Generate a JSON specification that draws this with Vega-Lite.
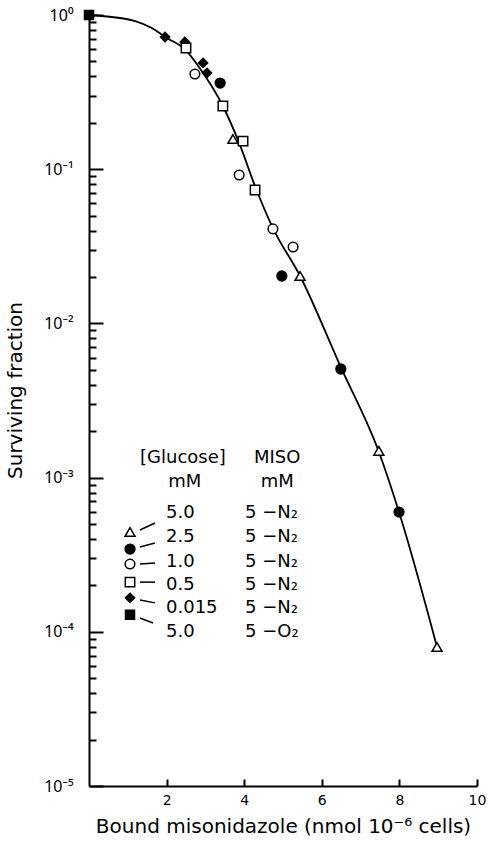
{
  "$schema": "https://vega.github.io/schema/vega-lite/v6.json",
  "width": 388,
  "height": 771,
  "autosize": {"type": "none"},
  "padding": {"left": 89, "top": 15, "right": 13, "bottom": 65},
  "background": "white",
  "config": {"view": {"stroke": null}, "font": "DejaVu Sans"},
  "datasets": {
    "curve": [
      {"x": 0, "y": 1.0}, {"x": 0.34, "y": 0.985}, {"x": 1.19, "y": 0.914}, {"x": 1.62, "y": 0.824},
      {"x": 1.96, "y": 0.72}, {"x": 2.47, "y": 0.6}, {"x": 2.86, "y": 0.45}, {"x": 3.45, "y": 0.257},
      {"x": 3.87, "y": 0.148}, {"x": 4.28, "y": 0.0775}, {"x": 4.74, "y": 0.0415}, {"x": 5.44, "y": 0.0203},
      {"x": 6.49, "y": 0.0052}, {"x": 7.47, "y": 0.00147}, {"x": 7.99, "y": 0.000598}, {"x": 8.97, "y": 0.0000797}
    ],
    "points": [
      {"group": "O2", "x": 0, "y": 1.0},
      {"group": "G0.015", "x": 1.96, "y": 0.72},
      {"group": "G0.015", "x": 2.47, "y": 0.668},
      {"group": "G0.015", "x": 2.94, "y": 0.489},
      {"group": "G0.015", "x": 3.04, "y": 0.421},
      {"group": "G0.5", "x": 2.5, "y": 0.611},
      {"group": "G0.5", "x": 3.45, "y": 0.257},
      {"group": "G0.5", "x": 3.97, "y": 0.152},
      {"group": "G0.5", "x": 4.28, "y": 0.0733},
      {"group": "G1.0", "x": 2.73, "y": 0.414},
      {"group": "G1.0", "x": 3.87, "y": 0.0917},
      {"group": "G1.0", "x": 4.74, "y": 0.041},
      {"group": "G1.0", "x": 5.26, "y": 0.0313},
      {"group": "G2.5", "x": 3.38, "y": 0.362},
      {"group": "G2.5", "x": 4.97, "y": 0.0203},
      {"group": "G2.5", "x": 6.49, "y": 0.00506},
      {"group": "G2.5", "x": 7.99, "y": 0.000598},
      {"group": "G5.0", "x": 3.71, "y": 0.157},
      {"group": "G5.0", "x": 5.44, "y": 0.0203},
      {"group": "G5.0", "x": 7.47, "y": 0.00149},
      {"group": "G5.0", "x": 8.97, "y": 0.0000797}
    ],
    "legsym": [
      {"group": "G5.0", "x": 1.057, "y": 0.000444},
      {"group": "G2.5", "x": 1.057, "y": 0.000344},
      {"group": "G1.0", "x": 1.057, "y": 0.000275},
      {"group": "G0.5", "x": 1.057, "y": 0.00021},
      {"group": "G0.015", "x": 1.057, "y": 0.000166},
      {"group": "O2", "x": 1.057, "y": 0.000129}
    ],
    "leaders": [
      {"x": 1.314, "y": 0.000457, "x2": 1.701, "y2": 0.000508},
      {"x": 1.314, "y": 0.000355, "x2": 1.701, "y2": 0.000377},
      {"x": 1.314, "y": 0.000275, "x2": 1.701, "y2": 0.000279},
      {"x": 1.314, "y": 0.00021, "x2": 1.701, "y2": 0.00021},
      {"x": 1.314, "y": 0.000161, "x2": 1.701, "y2": 0.000154},
      {"x": 1.314, "y": 0.000123, "x2": 1.65, "y2": 0.000114}
    ],
    "headers": [
      {"x": 2.42, "y": 0.00134, "text": "[Glucose]"},
      {"x": 2.47, "y": 0.000936, "text": "mM"},
      {"x": 4.85, "y": 0.00134, "text": "MISO"},
      {"x": 4.85, "y": 0.000936, "text": "mM"}
    ],
    "rows": [
      {"x": 1.985, "y": 0.000589, "text": "5.0"},
      {"x": 1.985, "y": 0.000412, "text": "2.5"},
      {"x": 1.985, "y": 0.000284, "text": "1.0"},
      {"x": 1.985, "y": 0.000201, "text": "0.5"},
      {"x": 1.985, "y": 0.000143, "text": "0.015"},
      {"x": 1.985, "y": 0.0000996, "text": "5.0"},
      {"x": 4.02, "y": 0.000589, "text": "5 −N₂"},
      {"x": 4.02, "y": 0.000412, "text": "5 −N₂"},
      {"x": 4.02, "y": 0.000284, "text": "5 −N₂"},
      {"x": 4.02, "y": 0.000201, "text": "5 −N₂"},
      {"x": 4.02, "y": 0.000143, "text": "5 −N₂"},
      {"x": 4.02, "y": 0.0000996, "text": "5 −O₂"}
    ]
  },
  "encoding": {
    "x": {
      "field": "x", "type": "quantitative",
      "scale": {"domain": [0, 10], "nice": false, "zero": false},
      "axis": {
        "values": [2, 4, 6, 8, 10],
        "grid": false,
        "domainColor": "black", "domainWidth": 2,
        "tickColor": "black", "tickWidth": 2, "tickSize": -7,
        "labelFont": "DejaVu Sans", "labelFontSize": 14, "labelColor": "black",
        "labelPadding": 14, "labelFlush": false,
        "title": "Bound misonidazole (nmol 10⁻⁶ cells)",
        "titleFont": "DejaVu Sans", "titleFontSize": 20, "titleFontWeight": "normal", "titleColor": "black",
        "titleBaseline": "alphabetic", "titleY": 46
      }
    },
    "y": {
      "field": "y", "type": "quantitative",
      "scale": {"type": "log", "domain": [0.00001, 1], "nice": false},
      "axis": {
        "values": [0.00001, 0.00002, 0.00003, 0.00004, 0.00005, 0.00006, 0.00007, 0.00008, 0.00009,
                   0.0001, 0.0002, 0.0003, 0.0004, 0.0005, 0.0006, 0.0007, 0.0008, 0.0009,
                   0.001, 0.002, 0.003, 0.004, 0.005, 0.006, 0.007, 0.008, 0.009,
                   0.01, 0.02, 0.03, 0.04, 0.05, 0.06, 0.07, 0.08, 0.09,
                   0.1, 0.2, 0.3, 0.4, 0.5, 0.6, 0.7, 0.8, 0.9, 1],
        "labelExpr": "abs(log(datum.value)/LN10 - round(log(datum.value)/LN10)) < 0.01 ? ['10⁻⁵','10⁻⁴','10⁻³','10⁻²','10⁻¹','10⁰'][round(log(datum.value)/LN10)+5] : ''",
        "grid": false,
        "domainColor": "black", "domainWidth": 2,
        "tickColor": "black", "tickWidth": 2,
        "tickSize": {"condition": {"test": "abs(log(datum.value)/LN10 - round(log(datum.value)/LN10)) < 0.01", "value": -14}, "value": -7},
        "labelFont": "Noto Sans", "labelFontSize": 16, "labelColor": "black",
        "labelPadding": 30, "labelFlush": false, "labelOverlap": false,
        "title": "Surviving fraction",
        "titleFont": "DejaVu Sans", "titleFontSize": 20, "titleFontWeight": "normal", "titleColor": "black",
        "titleX": -74, "titleY": 375, "titleBaseline": "middle", "titleAlign": "center"
      }
    }
  },
  "layer": [
    {
      "data": {"name": "curve"},
      "mark": {"type": "line", "color": "black", "strokeWidth": 1.8, "interpolate": "monotone"},
      "encoding": {}
    },
    {
      "data": {"name": "points"},
      "mark": {"type": "point", "filled": true, "stroke": "black", "strokeWidth": 1.5, "opacity": 1},
      "encoding": {
        "shape": {"field": "group", "type": "nominal", "legend": null,
          "scale": {"domain": ["G5.0", "G2.5", "G1.0", "G0.5", "G0.015", "O2"],
                    "range": ["triangle-up", "circle", "circle", "square", "diamond", "square"]}},
        "fill": {"field": "group", "type": "nominal", "legend": null,
          "scale": {"domain": ["G5.0", "G2.5", "G1.0", "G0.5", "G0.015", "O2"],
                    "range": ["white", "black", "white", "white", "black", "black"]}},
        "size": {"field": "group", "type": "nominal", "legend": null,
          "scale": {"domain": ["G5.0", "G2.5", "G1.0", "G0.5", "G0.015", "O2"],
                    "range": [100, 81, 64, 70, 121, 100]}}
      }
    },
    {
      "data": {"name": "legsym"},
      "mark": {"type": "point", "filled": true, "stroke": "black", "strokeWidth": 1.5, "opacity": 1},
      "encoding": {
        "shape": {"field": "group", "type": "nominal", "legend": null},
        "fill": {"field": "group", "type": "nominal", "legend": null},
        "size": {"field": "group", "type": "nominal", "legend": null}
      }
    },
    {
      "data": {"name": "leaders"},
      "mark": {"type": "rule", "color": "black", "strokeWidth": 1.5},
      "encoding": {"x2": {"field": "x2"}, "y2": {"field": "y2"}}
    },
    {
      "data": {"name": "headers"},
      "mark": {"type": "text", "font": "DejaVu Sans", "fontSize": 18, "align": "center", "baseline": "middle", "color": "black"},
      "encoding": {"text": {"field": "text"}}
    },
    {
      "data": {"name": "rows"},
      "mark": {"type": "text", "font": "DejaVu Sans", "fontSize": 18, "align": "left", "baseline": "middle", "color": "black"},
      "encoding": {"text": {"field": "text"}}
    }
  ]
}
